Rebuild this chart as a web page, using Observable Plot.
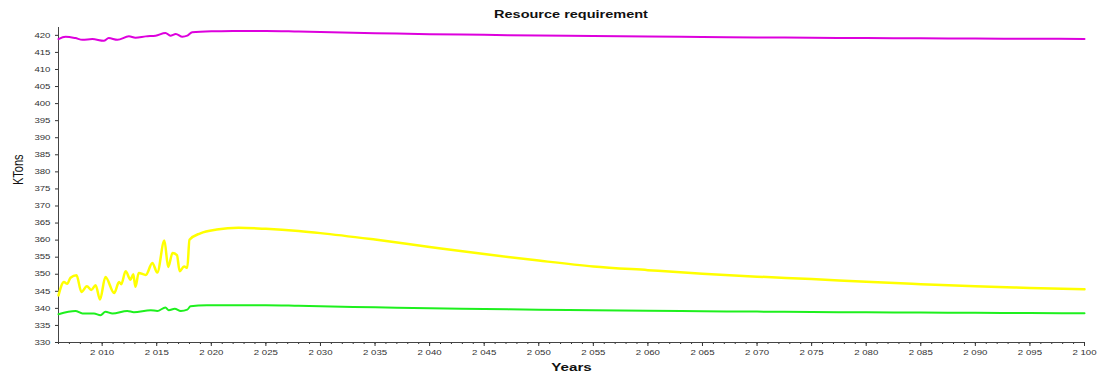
<!DOCTYPE html>
<html><head><meta charset="utf-8">
<script src="https://cdn.jsdelivr.net/npm/d3@7"></script>
<script src="https://cdn.jsdelivr.net/npm/@observablehq/plot@0.6"></script>
<style>
body{margin:0;background:#fff;font-family:"Liberation Sans",Arial,sans-serif;}
#wrap{position:relative;width:1099px;height:374px;overflow:hidden;background:#fff;}
#title{position:absolute;left:571px;top:7px;font-size:10.5px;font-weight:bold;white-space:nowrap;transform:translateX(-50%) scaleX(1.38);color:#111;line-height:14px;}
#chart{position:absolute;left:0;top:22px;}
</style></head><body>
<div id="wrap"><div id="title">Resource requirement</div><div id="chart"></div></div>
<script>
// ---- data ----
const yellowYears = [2006, 2006.5, 2006.8, 2007.1, 2007.65, 2008.1, 2008.6, 2009.0, 2009.4, 2009.8, 2010.3, 2011.1, 2011.55, 2011.75, 2012.15, 2012.6, 2012.85, 2013.05, 2013.35, 2014.0, 2014.6, 2015.05, 2015.7, 2016.05, 2016.45, 2016.85, 2017.1, 2017.5, 2017.8, 2018.0, 2019.0, 2020.5, 2022.5, 2025, 2028, 2030, 2035, 2040, 2045, 2050, 2055, 2060, 2065, 2070, 2075, 2080, 2085, 2090, 2095, 2100];
const yellowValues = [343.8, 347.7, 347.2, 349.0, 349.7, 344.8, 346.5, 345.4, 346.8, 342.6, 349.2, 344.5, 347.7, 347.1, 350.9, 348.4, 350.0, 346.3, 350.4, 349.8, 353.3, 350.5, 359.9, 352.1, 356.2, 355.6, 350.9, 352.3, 351.9, 360.1, 362.0, 363.1, 363.6, 363.3, 362.65, 362.05, 360.15, 358.0, 355.9, 354.0, 352.3, 351.2, 350.15, 349.3, 348.6, 347.8, 347.1, 346.45, 346.0, 345.6];

const greenYears = [2006, 2007.55, 2008.2, 2009.25, 2009.85, 2010.3, 2010.95, 2012.3, 2012.9, 2014.45, 2015.05, 2015.8, 2016.1, 2016.65, 2017.2, 2017.8, 2018.1, 2019.6, 2022, 2025, 2028, 2030, 2035, 2040, 2045, 2050, 2055, 2060, 2065, 2070, 2075, 2080, 2085, 2090, 2095, 2100];
const greenValues = [338.3, 339.25, 338.5, 338.5, 338.0, 339.0, 338.5, 339.25, 338.9, 339.45, 339.25, 340.25, 339.45, 339.9, 339.25, 339.65, 340.6, 340.9, 340.95, 340.95, 340.75, 340.6, 340.3, 340.0, 339.8, 339.6, 339.45, 339.3, 339.15, 339.05, 338.95, 338.85, 338.78, 338.7, 338.65, 338.55];

const magentaYears = [2006, 2006.65, 2007.55, 2008.2, 2009.1, 2010.15, 2010.6, 2011.4, 2012.45, 2013.05, 2014.0, 2014.9, 2015.8, 2016.25, 2016.75, 2017.35, 2017.8, 2018.25, 2020.4, 2022, 2025, 2028, 2030, 2035, 2040, 2045, 2050, 2055, 2060, 2065, 2070, 2075, 2080, 2085, 2090, 2095, 2100];
const magentaValues = [418.9, 419.6, 419.2, 418.7, 418.9, 418.4, 419.2, 418.7, 419.7, 419.3, 419.7, 419.9, 420.7, 419.9, 420.4, 419.6, 419.9, 420.9, 421.2, 421.3, 421.3, 421.1, 420.95, 420.65, 420.35, 420.15, 419.95, 419.8, 419.65, 419.5, 419.4, 419.3, 419.2, 419.15, 419.05, 419.0, 418.95];

const yTicks = d3.range(330, 421, 5);
const xMajorTicks = d3.range(2010, 2101, 5);
const xMinorTicks = d3.range(2006, 2101, 1);
const titleText = "Resource requirement";
const xLabel = "Years";
const yLabel = "KTons";

const fmt = d3.formatLocale({decimal: ".", thousands: " ", grouping: [3], currency: ["", ""]}).format(",d");

const chart = Plot.plot({
  width: 1099, height: 352,
  marginLeft: 58, marginRight: 15, marginTop: 5, marginBottom: 32,
  style: {fontFamily: "Liberation Sans, Arial, sans-serif", fontSize: "7px", color: "#333", background: "#fff"},
  x: {domain: [2006, 2100]},
  y: {domain: [330, 422.3]},
  marks: [
    Plot.axisY({ticks: yTicks, tickSize: 3, tickPadding: 5, tickFormat: d => String(d), label: null}),
    Plot.axisX({ticks: xMinorTicks, tickSize: 2, tickFormat: () => "", label: null}),
    Plot.axisX({ticks: xMajorTicks, tickSize: 4, tickPadding: 4, tickFormat: fmt, label: null}),
    Plot.ruleX([2006], {stroke: "#444"}),
    Plot.ruleY([330], {stroke: "#444"}),
    Plot.line(magentaValues, {x: magentaYears, y: magentaValues, stroke: "#dd00dd", strokeWidth: 2, curve: "monotone-x"}),
    Plot.line(yellowValues, {x: yellowYears, y: yellowValues, stroke: "#ffff00", strokeWidth: 2.5, curve: "monotone-x"}),
    Plot.line(greenValues, {x: greenYears, y: greenValues, stroke: "#1ef01e", strokeWidth: 2, curve: "monotone-x"}),
    Plot.text([xLabel], {text: d => d, frameAnchor: "bottom", dy: 24.5, lineAnchor: "middle", fontWeight: "bold", fontSize: 11, fill: "#111"}),
    Plot.text([yLabel], {text: d => d, frameAnchor: "left", dx: -40, rotate: -90, lineAnchor: "middle", fontSize: 11, fill: "#111"})
  ]
});
document.getElementById("title").textContent = titleText;
document.getElementById("chart").append(chart);

// horizontal stretch of the text, as in the reference
const S = 1.38;
chart.querySelectorAll("text").forEach(t => {
  if (!t.textContent) return;
  const p = t.parentNode;
  const m = p.getCTM().inverse().multiply(t.getCTM());
  const x = parseFloat(t.getAttribute("x")) || 0, y = parseFloat(t.getAttribute("y")) || 0;
  const ax = m.a * x + m.c * y + m.e, ay = m.b * x + m.d * y + m.f;
  const g = document.createElementNS("http://www.w3.org/2000/svg", "g");
  g.setAttribute("transform", `translate(${ax},${ay}) scale(${S},1) translate(${-ax},${-ay})`);
  p.insertBefore(g, t);
  g.appendChild(t);
});
</script>
</body></html>
